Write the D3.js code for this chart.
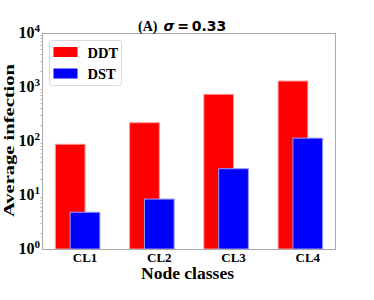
<!DOCTYPE html>
<html><head><meta charset="utf-8">
<script src="https://cdn.jsdelivr.net/npm/d3@7"></script>
<style>body{margin:0;background:#fff}svg{display:block}</style>
</head><body>
<script>
const categories = ["CL1","CL2","CL3","CL4"];
const ddt = [87, 218, 732, 1290];
const dst = [4.8, 8.4, 30.7, 113];
const seriesNames = ["DDT","DST"];
const seriesColors = ["#ff0000","#0000ff"];
const edgeColors = ["#ff9a9a","#9a9aff"];
const yTickExps = [0,1,2,3,4];

const W=374,H=300;
const L=42,R=336,T=33,B=249;
const svg=d3.select("body").append("svg").attr("width",W).attr("height",H);
const serif="'Liberation Serif','Times New Roman',serif";

const x=d3.scaleLinear().domain([-0.38,3.58]).range([L,R]);
const y=d3.scaleLog().domain([1,1e4]).range([B,T]);
const bw=0.4;

const series=[ddt,dst];
series.forEach((vals,si)=>{
  svg.append("g").selectAll("rect").data(vals).join("rect")
    .attr("x",(d,i)=>x(i+si*0.2-bw/2))
    .attr("width",(d,i)=>x(i+si*0.2+bw/2)-x(i+si*0.2-bw/2))
    .attr("y",d=>y(d))
    .attr("height",d=>B-y(d))
    .attr("fill",seriesColors[si])
    .attr("stroke",edgeColors[si]).attr("stroke-width",1);
});

// minor ticks on left axis
const minor=[];
for(let e=0;e<4;e++) for(let k=2;k<=9;k++) minor.push(k*Math.pow(10,e));
svg.append("g").selectAll("line").data(minor).join("line")
  .attr("x1",L-2).attr("x2",L).attr("y1",d=>Math.round(y(d))+0.5).attr("y2",d=>Math.round(y(d))+0.5)
  .attr("stroke","#c8c8c8").attr("stroke-width",1);

// spines
svg.append("rect").attr("x",L+0.5).attr("y",T+0.5).attr("width",R-L-1).attr("height",B-T)
  .attr("fill","none").attr("stroke","#a8a8a8").attr("stroke-width",1);

// y tick labels
const yt=svg.append("g");
yTickExps.forEach(e=>{
  const t=yt.append("text").attr("x",L-2).attr("y",y(Math.pow(10,e))+5)
    .attr("text-anchor","end").attr("font-family",serif).attr("font-weight","bold").attr("font-size",16);
  t.append("tspan").text("10");
  t.append("tspan").attr("font-size",11).attr("dy",-6).text(String(e));
});

// x tick labels
svg.append("g").selectAll("text").data(categories).join("text")
  .attr("x",(d,i)=>x(i+0.2)).attr("y",261.5)
  .attr("text-anchor","middle").attr("font-family",serif).attr("font-weight","bold").attr("font-size",13)
  .text(d=>d);

// axis labels
svg.append("text").attr("x",141).attr("y",278.5)
  .attr("font-family",serif).attr("font-weight","bold").attr("font-size",16)
  .attr("textLength",93).attr("lengthAdjust","spacingAndGlyphs").text("Node classes");
svg.append("text").attr("transform","translate(13.5,217) rotate(-90)")
  .attr("font-family",serif).attr("font-weight","bold").attr("font-size",15.5)
  .attr("textLength",153).attr("lengthAdjust","spacingAndGlyphs").text("Average infection");

// title
const tt=svg.append("text").attr("x",138).attr("y",31).attr("font-weight","bold");
tt.append("tspan").attr("font-family",serif).attr("font-size",14).text("(A)");
tt.append("tspan").attr("font-family","'DejaVu Sans',sans-serif").attr("font-size",14).attr("dx",6)
  .attr("font-style","italic").text("σ");
tt.append("tspan").attr("font-family","'DejaVu Sans',sans-serif").attr("font-size",14).text("\u2009=\u20090.33");

// legend
const lg=svg.append("g");
lg.append("rect").attr("x",49.5).attr("y",40.5).attr("width",72).attr("height",45).attr("rx",3)
  .attr("fill","#fff").attr("stroke","#d8d8d8").attr("stroke-width",1);
seriesNames.forEach((n,i)=>{
  lg.append("rect").attr("x",53.5).attr("y",47+i*21.5).attr("width",24).attr("height",10).attr("fill",seriesColors[i]);
  lg.append("text").attr("x",87.5).attr("y",57.5+i*21.5).attr("font-family",serif).attr("font-weight","bold")
    .attr("font-size",14.5).text(n);
});
</script>
</body></html>
